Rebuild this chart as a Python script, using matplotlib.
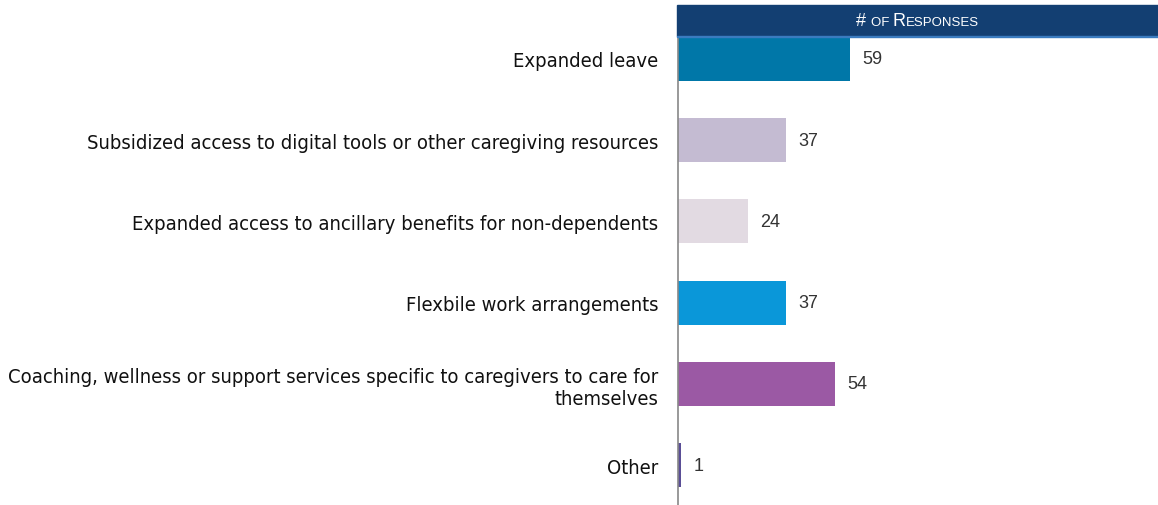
import matplotlib.pyplot as plt
from matplotlib.patches import Rectangle
from matplotlib.offsetbox import TextArea, HPacker, AnchoredOffsetbox

categories = [
    "Expanded leave",
    "Subsidized access to digital tools or other caregiving resources",
    "Expanded access to ancillary benefits for non-dependents",
    "Flexbile work arrangements",
    "Coaching, wellness or support services specific to caregivers to care for\nthemselves",
    "Other",
]
responses = [59, 37, 24, 37, 54, 1]
colors = ["#0077A8", "#C4BBD2", "#E2DAE2", "#0A97D9", "#9B59A4", "#5A4E96"]

fig = plt.figure(figsize=(11.58, 5.06), dpi=100)
ax = fig.add_axes([678 / 1158, 0, 1 - 678 / 1158, 1 - 37 / 506])

y = list(range(len(categories)))
ax.barh(y, responses, height=0.54, color=colors)
ax.set_xlim(0, 165)
ax.set_ylim(5.49, -0.28)

for yi, v in zip(y, responses):
    ax.annotate(str(v), (v, yi), xytext=(9, 0), textcoords="offset points",
                va="center", ha="left", fontsize=13, color="#333333",
                family=["Liberation Sans", "DejaVu Sans"])

ax.set_yticks(y)
ax.set_yticklabels(categories, fontsize=14.5, color="#111111",
                   family="DejaVu Sans", fontstretch="condensed",
                   ha="right", multialignment="right")
ax.tick_params(axis="y", length=0, pad=14)
ax.set_xticks([])
for s in ["top", "right", "bottom"]:
    ax.spines[s].set_visible(False)
ax.spines["left"].set_color("#888888")
ax.spines["left"].set_linewidth(1.2)

# header band
hx = 677 / 1158
fig.patches.append(Rectangle((hx, 1 - 37 / 506), 1 - hx, 31 / 506,
                             transform=fig.transFigure, color="#133F72", zorder=3))
fig.patches.append(Rectangle((hx, 1 - 38 / 506), 1 - hx, 1.5 / 506,
                             transform=fig.transFigure, color="#3A7BBF", zorder=4))

parts = [("# ", 13), ("OF ", 9.5), ("R", 13), ("ESPONSES", 9.5)]
boxes = [TextArea(t, textprops=dict(color="white", fontsize=s,
                                    family=["Liberation Sans", "DejaVu Sans"]))
         for t, s in parts]
pack = HPacker(children=boxes, align="baseline", pad=0, sep=0)
anch = AnchoredOffsetbox(loc="center", child=pack, frameon=False,
                         bbox_to_anchor=((hx + 1) / 2, 1 - 21.5 / 506),
                         bbox_transform=fig.transFigure, borderpad=0, pad=0)
fig.add_artist(anch)

fig.savefig("out.png", dpi=100)
